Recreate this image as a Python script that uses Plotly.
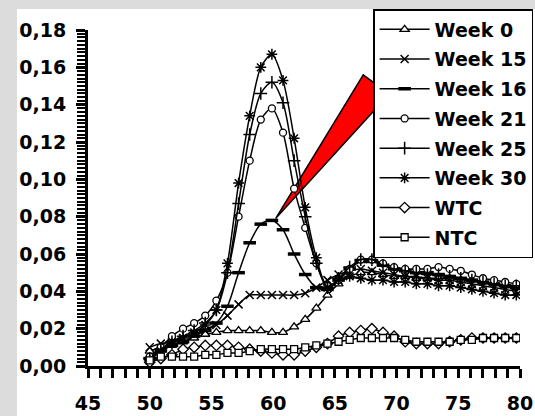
import plotly.graph_objects as go

# Temperature (x) grid
temps = [50.0, 50.9, 51.8, 52.7, 53.6, 54.5, 55.4, 56.3, 57.2, 58.1, 59.0, 59.9,
         60.8, 61.7, 62.6, 63.5, 64.4, 65.3, 66.2, 67.1, 68.0, 68.9, 69.8, 70.7,
         71.6, 72.5, 73.4, 74.3, 75.2, 76.1, 77.0, 77.9, 78.8, 79.7]

week0 = [0.008, 0.010, 0.011, 0.013, 0.015, 0.017, 0.018, 0.019, 0.019, 0.019, 0.019, 0.018,
         0.018, 0.021, 0.025, 0.031, 0.038, 0.044, 0.048, 0.050, 0.050, 0.049, 0.048, 0.048,
         0.047, 0.047, 0.047, 0.047, 0.046, 0.046, 0.045, 0.044, 0.043, 0.042]
week15 = [0.010, 0.012, 0.013, 0.015, 0.017, 0.019, 0.022, 0.027, 0.033, 0.038, 0.038, 0.038,
          0.038, 0.038, 0.039, 0.042, 0.046, 0.049, 0.051, 0.052, 0.051, 0.050, 0.049, 0.048,
          0.048, 0.047, 0.046, 0.046, 0.045, 0.044, 0.043, 0.042, 0.041, 0.040]
week16 = [0.004, 0.008, 0.011, 0.013, 0.016, 0.019, 0.023, 0.032, 0.050, 0.066, 0.076, 0.078,
          0.073, 0.060, 0.049, 0.042, 0.041, 0.046, 0.052, 0.056, 0.056, 0.054, 0.052, 0.051,
          0.050, 0.050, 0.049, 0.048, 0.047, 0.046, 0.045, 0.044, 0.043, 0.042]
week21 = [0.005, 0.010, 0.016, 0.020, 0.023, 0.027, 0.035, 0.050, 0.080, 0.110, 0.132, 0.138,
          0.125, 0.095, 0.074, 0.055, 0.043, 0.046, 0.052, 0.057, 0.057, 0.055, 0.053, 0.052,
          0.052, 0.052, 0.053, 0.052, 0.051, 0.049, 0.047, 0.046, 0.045, 0.044]
week25 = [0.004, 0.009, 0.013, 0.016, 0.019, 0.023, 0.030, 0.050, 0.087, 0.124, 0.146, 0.152,
          0.141, 0.110, 0.080, 0.055, 0.042, 0.047, 0.053, 0.057, 0.057, 0.054, 0.052, 0.051,
          0.050, 0.049, 0.049, 0.048, 0.047, 0.046, 0.045, 0.044, 0.043, 0.043]
week30 = [0.003, 0.008, 0.012, 0.015, 0.018, 0.022, 0.030, 0.055, 0.098, 0.134, 0.160, 0.167,
          0.153, 0.122, 0.085, 0.058, 0.042, 0.046, 0.048, 0.047, 0.046, 0.046, 0.045, 0.045,
          0.044, 0.044, 0.043, 0.043, 0.042, 0.041, 0.040, 0.039, 0.038, 0.038]
wtc = [0.002, 0.004, 0.006, 0.009, 0.010, 0.011, 0.011, 0.011, 0.010, 0.009, 0.008, 0.007,
       0.006, 0.006, 0.008, 0.010, 0.012, 0.016, 0.018, 0.019, 0.020, 0.018, 0.016, 0.013,
       0.012, 0.012, 0.012, 0.013, 0.014, 0.015, 0.015, 0.015, 0.015, 0.015]
ntc = [0.003, 0.005, 0.005, 0.005, 0.005, 0.006, 0.006, 0.007, 0.007, 0.008, 0.009, 0.009,
       0.009, 0.009, 0.010, 0.011, 0.012, 0.013, 0.014, 0.015, 0.015, 0.015, 0.015, 0.014,
       0.013, 0.013, 0.013, 0.013, 0.014, 0.014, 0.015, 0.015, 0.015, 0.015]

series_names = ["Week 0", "Week 15", "Week 16", "Week 21", "Week 25", "Week 30", "WTC", "NTC"]
series_values = [week0, week15, week16, week21, week25, week30, wtc, ntc]

# Red pointer wedge (data coordinates)
wedge_x = [60.2, 67.3, 69.4, 60.2]
wedge_y = [0.079, 0.156, 0.1457, 0.079]

FONT = "DejaVu Sans"

marker_styles = [
    dict(symbol="triangle-up", size=8, color="white", line=dict(color="black", width=1.3)),
    dict(symbol="x-thin", size=8, color="black", line=dict(color="black", width=1.5)),
    dict(symbol="line-ew", size=9, color="black", line=dict(color="black", width=3.5)),
    dict(symbol="circle", size=7, color="white", line=dict(color="black", width=1.3)),
    dict(symbol="cross-thin", size=9, color="black", line=dict(color="black", width=1.5)),
    dict(symbol="asterisk", size=9, color="black", line=dict(color="black", width=1.5)),
    dict(symbol="diamond", size=8, color="white", line=dict(color="black", width=1.3)),
    dict(symbol="square", size=7, color="white", line=dict(color="black", width=1.3)),
]

fig = go.Figure()

fig.add_trace(go.Scatter(x=wedge_x, y=wedge_y, mode="lines", fill="toself",
                         fillcolor="#ff0000", line=dict(color="black", width=1.5),
                         showlegend=False, hoverinfo="skip"))

for name, vals, mk in zip(series_names, series_values, marker_styles):
    fig.add_trace(go.Scatter(
        x=temps, y=vals, name=name, legendgroup=name,
        mode="lines+markers",
        line=dict(color="black", width=1.5, shape="spline", smoothing=0.8),
        marker=mk,
    ))

fig.update_layout(
    width=535, height=416,
    margin=dict(l=88, r=15, t=30, b=50, autoexpand=False),
    paper_bgcolor="#dcdcdc",
    plot_bgcolor="white",
    separators=",.",
    font=dict(family=FONT, size=19, color="black"),
    showlegend=True,
    legend=dict(
        x=0.66, y=1.0625, xanchor="left", yanchor="top",
        bgcolor="white", bordercolor="black", borderwidth=1.5,
        font=dict(family=FONT, size=19, color="black", weight="bold"),
        tracegroupgap=2, itemwidth=50, maxheight=400,
    ),
    shapes=[dict(type="rect", xref="paper", yref="paper",
                 x0=-0.1644, x1=1.1, y0=-0.2, y1=1.0625,
                 fillcolor="white", line=dict(width=0), layer="below")],
)

fig.update_xaxes(
    range=[45, 80], dtick=5, tick0=45,
    showgrid=False, zeroline=False,
    showline=True, linecolor="black", linewidth=3,
    ticks="outside", ticklen=9, tickwidth=3, tickcolor="black",
    tickfont=dict(family=FONT, size=19, color="black", weight="bold"),
    ticklabelstandoff=9,
    minor=dict(dtick=1, ticks="outside", ticklen=9, tickwidth=3, tickcolor="black", showgrid=False),
)
fig.update_yaxes(
    range=[0, 0.18], dtick=0.02, tick0=0, tickformat=".2f",
    showgrid=False, zeroline=False,
    showline=True, linecolor="black", linewidth=3,
    ticks="outside", ticklen=9, tickwidth=3, tickcolor="black",
    tickfont=dict(family=FONT, size=19, color="black", weight="bold"),
    ticklabelstandoff=6,
    minor=dict(dtick=0.002, ticks="outside", ticklen=8, tickwidth=2, tickcolor="black", showgrid=False),
)

fig.write_html("out.html")
